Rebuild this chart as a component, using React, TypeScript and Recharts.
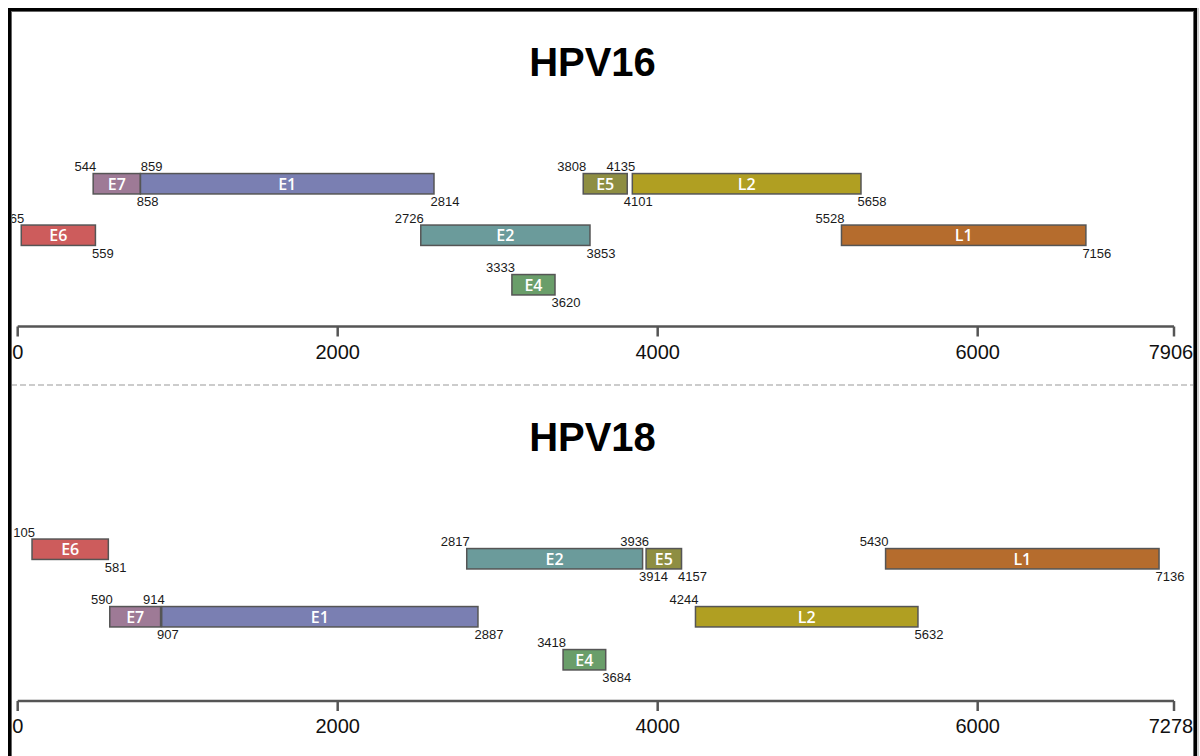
import React from 'react';
import { ComposedChart, XAxis, YAxis, Bar, Cell, LabelList } from 'recharts';

// ---------------- data ----------------
const HPV16_GENES = ['E6', 'E7', 'E1', 'E2', 'E4', 'E5', 'L2', 'L1'];
const HPV16_START = [65, 544, 859, 2726, 3333, 3808, 4135, 5528];
const HPV16_END = [559, 858, 2814, 3853, 3620, 4101, 5658, 7156];
const HPV16_TRACK = [1, 0, 0, 1, 2, 0, 0, 1];
const HPV16_LENGTH = 7906;

const HPV18_GENES = ['E6', 'E7', 'E1', 'E2', 'E4', 'E5', 'L2', 'L1'];
const HPV18_START = [105, 590, 914, 2817, 3418, 3936, 4244, 5430];
const HPV18_END = [581, 907, 2887, 3914, 3684, 4157, 5632, 7136];
const HPV18_TRACK = [0, 2, 2, 1, 3, 1, 2, 1];
const HPV18_LENGTH = 7278;

const RULER_TICKS = [0, 2000, 4000, 6000];

// ---------------- styles / layout ----------------
const GENE_COLORS: Record<string, string> = {
  E6: '#CD5C5C',
  E7: '#9E7A96',
  E1: '#7A7FB2',
  E2: '#6B9B9B',
  E4: '#6A9E6A',
  E5: '#8E8E42',
  L2: '#B09F22',
  L1: '#B56C2D',
};
const FONT = '"Liberation Sans", Arial, Helvetica, sans-serif';
const BAR_FONT = '"Open Sans", "DejaVu Sans", sans-serif';
const RULER_END = 7227; // ruler drawn end (labelled with genome length)
const LANES_16 = [2.86, 1.83, 0.84];
const LANES_18 = [3.04, 2.85, 1.69, 0.83];
const BAR_PX = 20.4;
const LABEL_NUDGE: Record<string, number> = { 'HPV16:E1': 19 };

function RulerTick(props: any) {
  const { x, y, payload, genomeLength } = props;
  const isEnd = payload.value === RULER_END;
  return (
    <text x={isEnd ? x - 3 : x} y={y} dy="0.71em" textAnchor="middle" fill="#111" fontFamily={FONT} fontSize={20}>
      {isEnd ? genomeLength : payload.value}
    </text>
  );
}

function GeneShape(props: any) {
  const { x, y, width, height, fill } = props;
  if (x == null || width == null) return null;
  const cy = y + height / 2;
  return (
    <rect x={x} y={cy - BAR_PX / 2} width={width} height={BAR_PX}
      fill={fill} stroke="#555" strokeWidth={1.5} />
  );
}

type PanelProps = {
  name: string;
  genes: string[];
  starts: number[];
  ends: number[];
  tracks: number[];
  lanes: number[];
  length: number;
  genePad: { left: number; right: number };
  height: number;
  marginTop: number;
  marginBottom: number;
};

function GenomePanel(p: PanelProps) {
  const rows = p.genes.map((g, i) => ({
    gene: g,
    start: p.starts[i],
    end: p.ends[i],
    range: [p.starts[i], p.ends[i]],
    lane: p.lanes[p.tracks[i]],
  }));

  const renderLabel = (lp: any) => {
    const { x, y, width, height, value } = lp;
    const idx = typeof lp.index === 'number' ? lp.index : p.genes.indexOf(value);
    const r = rows[idx];
    if (!r) return null;
    const nudge = LABEL_NUDGE[p.name + ':' + r.gene] || 0;
    const cy = y + height / 2;
    const top = cy - BAR_PX / 2;
    const bottom = cy + BAR_PX / 2;
    return (
      <g>
        <text x={x + width / 2} y={cy} dy="0.37em" textAnchor="middle" fill="#ffffff"
          fontFamily={BAR_FONT} fontSize={16} fontWeight={600}>{r.gene}</text>
        <text x={x + 3 + nudge} y={top - 2.3} textAnchor="end" fill="#1a1a1a" fontFamily={FONT} fontSize={13}>{r.start}</text>
        <text x={x + width - 3.5} y={bottom + 12.5} textAnchor="start" fill="#1a1a1a" fontFamily={FONT} fontSize={13}>{r.end}</text>
      </g>
    );
  };

  return (
    <ComposedChart layout="vertical" data={rows} width={1200} height={p.height}
      margin={{ top: p.marginTop, right: 26, bottom: p.marginBottom, left: 17.7 }}>
      <XAxis xAxisId="ruler" type="number" domain={[0, RULER_END]} ticks={[...RULER_TICKS, RULER_END]}
        interval={0} height={40} tickSize={10} tickMargin={8}
        axisLine={{ stroke: '#555', strokeWidth: 2.5 }} tickLine={{ stroke: '#555', strokeWidth: 2.5 }}
        tick={(tp: any) => <RulerTick {...tp} genomeLength={p.length} />} allowDataOverflow />
      <XAxis xAxisId="genes" type="number" domain={[0, p.length]} hide height={0} padding={p.genePad} allowDataOverflow />
      <YAxis type="number" dataKey="lane" domain={[0, 4]} reversed hide allowDataOverflow />
      <Bar xAxisId="genes" dataKey="range" barSize={2} isAnimationActive={false} shape={<GeneShape />}>
        {rows.map((r) => <Cell key={r.gene} fill={GENE_COLORS[r.gene]} />)}
        <LabelList dataKey="gene" content={renderLabel} />
      </Bar>
    </ComposedChart>
  );
}

export default function App() {
  return (
    <div style={{ position: 'absolute', left: 0, top: 0, width: 1200, height: 756, overflow: 'hidden', background: '#fff' }}>
      <svg style={{ position: 'absolute', left: 0, top: 0 }} width={1200} height={756}>
        <text x={592.5} y={76} textAnchor="middle" fontFamily={FONT} fontWeight="bold" fontSize={40} fill="#000">HPV16</text>
        <text x={592.5} y={451} textAnchor="middle" fontFamily={FONT} fontWeight="bold" fontSize={40} fill="#000">HPV18</text>
        <line x1={11} x2={1194} y1={385} y2={385} stroke="#999" strokeWidth={1.2} strokeDasharray="6 3" />
      </svg>
      <div style={{ position: 'absolute', left: 0, top: 0 }}>
        <GenomePanel name="HPV16" genes={HPV16_GENES} starts={HPV16_START} ends={HPV16_END} tracks={HPV16_TRACK}
          lanes={LANES_16} length={HPV16_LENGTH} genePad={{ left: -6.2, right: -24.5 }}
          height={385} marginTop={126.5} marginBottom={18.5} />
      </div>
      <div style={{ position: 'absolute', left: 0, top: 385 }}>
        <GenomePanel name="HPV18" genes={HPV18_GENES} starts={HPV18_START} ends={HPV18_END} tracks={HPV18_TRACK}
          lanes={LANES_18} length={HPV18_LENGTH} genePad={{ left: -2.5, right: -7.8 }}
          height={371} marginTop={116} marginBottom={15} />
      </div>
      <div style={{
        position: 'absolute', left: 8, top: 8, width: 1189, height: 770, boxSizing: 'border-box',
        border: '3px solid #000', boxShadow: 'inset 0 0 0 1px #666, 2px 0 0 #ccc', pointerEvents: 'none'
      }} />
    </div>
  );
}
